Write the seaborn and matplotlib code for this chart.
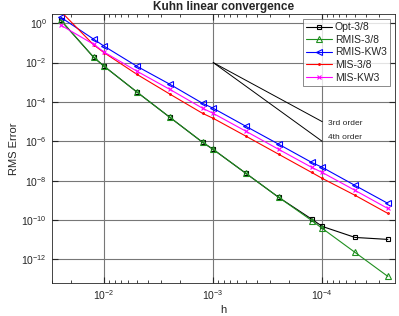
import numpy as np
import pandas as pd
import matplotlib
matplotlib.use("Agg")
import matplotlib.pyplot as plt
import seaborn as sns

# step sizes h (1/N)
N = [40, 80, 100, 200, 400, 800, 1000, 2000, 4000, 8000, 10000, 20000, 40000]
h = [1.0 / n for n in N]

# log10 of RMS error
log_opt38 = [0.15, -1.73, -2.19, -3.50, -4.78, -6.05, -6.41, -7.63, -8.85, -9.95, -10.32, -10.88, -10.98]
log_rmis38 = [0.15, -1.73, -2.19, -3.50, -4.78, -6.05, -6.41, -7.63, -8.85, -10.02, -10.42, -11.64, -12.86]
log_rmiskw3 = [0.30, -0.81, -1.17, -2.19, -3.10, -4.07, -4.32, -5.24, -6.15, -7.07, -7.32, -8.24, -9.15]
log_mis38 = [0.60, -1.10, -1.50, -2.60, -3.60, -4.58, -4.83, -5.74, -6.66, -7.58, -7.88, -8.74, -9.66]
log_miskw3 = [-0.10, -1.07, -1.47, -2.44, -3.36, -4.32, -4.58, -5.49, -6.41, -7.32, -7.58, -8.49, -9.41]

series = [
    ("Opt-3/8", log_opt38, "black", "s", 3.5),
    ("RMIS-3/8", log_rmis38, "#1f8f1f", "^", 4.5),
    ("RMIS-KW3", log_rmiskw3, "#0000ff", "<", 5),
    ("MIS-3/8", log_mis38, "#ff0000", ".", 2.5),
    ("MIS-KW3", log_miskw3, "#ff00ff", "x", 3.5),
]

# reference slopes
ref_h = [1e-3, 1e-4]
ref_3rd = [1e-2, 1e-5]
ref_4th = [1e-2, 1e-6]

sns.set_style("ticks")
plt.rcParams["font.family"] = ["Liberation Sans", "DejaVu Sans"]
plt.rcParams["mathtext.fontset"] = "custom"
plt.rcParams["mathtext.rm"] = "Liberation Sans"

fig = plt.figure(figsize=(3.99, 3.16), dpi=100)
ax = fig.add_axes([0.130, 0.104, 0.860, 0.852])

for name, vals, col, mk, ms in series:
    df = pd.DataFrame({"h": h, "err": 10.0 ** np.array(vals)})
    sns.lineplot(data=df, x="h", y="err", ax=ax, color=col, marker=mk,
                 markersize=ms, markerfacecolor="none", markeredgecolor=col,
                 markeredgewidth=0.8, linewidth=0.8, label=name, sort=False)

sns.lineplot(x=ref_h, y=ref_3rd, ax=ax, color="black", linewidth=0.7, legend=False)
sns.lineplot(x=ref_h, y=ref_4th, ax=ax, color="black", linewidth=0.7, legend=False)
ax.text(8.9e-5, 8.5e-6, "3rd order", fontsize=6, va="center", ha="left")
ax.text(8.9e-5, 1.66e-6, "4th order", fontsize=6, va="center", ha="left")

ax.set_xscale("log")
ax.set_yscale("log")
ax.set_xlim(0.0302, 2.15e-5)
ax.set_ylim(6.3e-14, 2.97)
ax.set_xticks([1e-2, 1e-3, 1e-4])
ax.set_yticks([1e0, 1e-2, 1e-4, 1e-6, 1e-8, 1e-10, 1e-12])
ax.grid(True, which="major", color="#777777", linewidth=0.8)
ax.tick_params(which="both", direction="in", top=True, right=True, labelsize=7.5)
ax.tick_params(which="major", length=4)
ax.tick_params(which="minor", length=2)
for s in ax.spines.values():
    s.set_linewidth(0.6)

ax.set_title("Kuhn linear convergence", fontsize=8.5, fontweight="bold", pad=3)
ax.set_xlabel("h", fontsize=8, labelpad=2)
ax.set_ylabel("RMS Error", fontsize=8, labelpad=2)

leg = ax.legend(loc="upper right", fontsize=7.5, frameon=True, fancybox=False,
                edgecolor="#555555", borderpad=0.3, labelspacing=0.25,
                handlelength=2.5, handletextpad=0.3, borderaxespad=0.5)
leg.get_frame().set_linewidth(0.6)

fig.savefig("out.png", dpi=100)
